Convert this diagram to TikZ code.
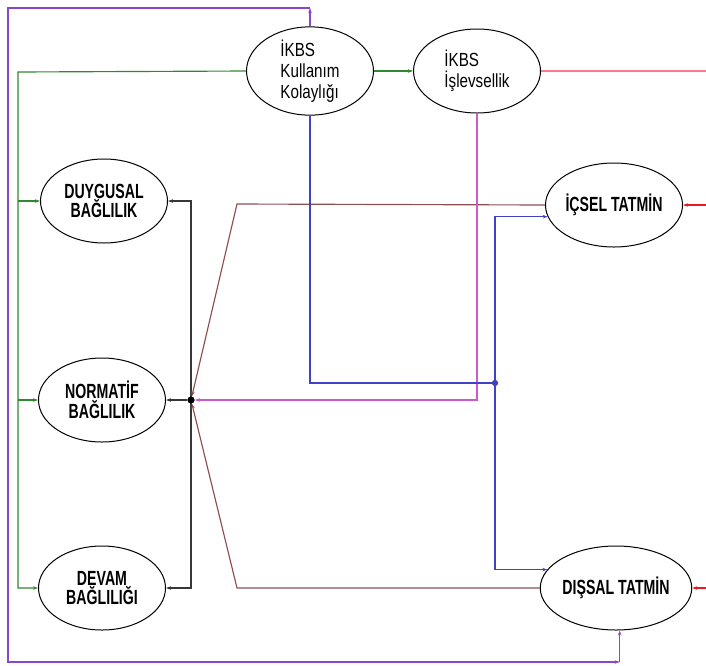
\documentclass[tikz,border=0pt]{standalone}
\usepackage{fontspec}
\setmainfont{Liberation Sans}
\newfontfamily\nfont[FakeStretch=0.69]{Liberation Sans}
\newfontfamily\kfont[FakeStretch=0.8]{Liberation Sans}
\usetikzlibrary{arrows.meta,shapes.geometric}
\definecolor{cpur}{RGB}{140,70,200}
\definecolor{cgrn}{RGB}{50,135,50}
\definecolor{cpnk}{RGB}{255,120,145}
\definecolor{cred}{RGB}{235,25,35}
\definecolor{cdk}{RGB}{55,55,55}
\definecolor{cbrn}{RGB}{140,80,80}
\definecolor{cmag}{RGB}{205,90,205}
\definecolor{cblu}{RGB}{65,65,195}
\begin{document}
\begin{tikzpicture}[x=1pt,y=-1pt,
  tip/.tip={Stealth[length=5pt,width=3.5pt]},
  ell/.style={ellipse,draw=black,line width=1pt,minimum width=127pt,minimum height=84pt,inner sep=0pt,fill=white},
  big/.style={font=\nfont\bfseries\fontsize{20.5}{19.5}\selectfont,align=center},
  ikbs/.style={font=\kfont\fontsize{19}{21}\selectfont,align=left},
  conn/.style={line width=1.15pt},
  pur/.style={conn,draw=cpur},
  grn/.style={conn,draw=cgrn},
  pnk/.style={conn,draw=cpnk},
  rd/.style={conn,draw=cred},
  dk/.style={conn,draw=cdk},
  brn/.style={conn,draw=cbrn},
  mag/.style={conn,draw=cmag},
  blu/.style={conn,draw=cblu},
  dot/.style={circle,inner sep=0pt,minimum size=#1}
]
\useasboundingbox (0,0) rectangle (706,665);

% nodes
\node[ell,ikbs] (kul) at (310,71) {İKBS\\Kullanım\\Kolaylığı};
\node[ell,ikbs] (isl) at (477,71) {İKBS\\İşlevsellik};
\node[ell,big] (duy) at (104,201) {DUYGUSAL\\BAĞLILIK};
\node[ell,big] (nor) at (102,400) {NORMATİF\\BAĞLILIK};
\node[ell,big] (dev) at (102,588) {DEVAM\\BAĞLILIĞI};
\node[ell,big] (ics) at (614,205) {İÇSEL TATMİN};
\node[ell,big] (dis) at (616,588) {DIŞSAL TATMİN};
\node[dot=7pt,fill=black] (jn) at (191,400) {};
\node[dot=6pt,fill=cblu] (bd) at (495,383) {};

% coordinates
\coordinate (p1) at (310,8);
\coordinate (p2) at (8,8);
\coordinate (p3) at (8,662);
\coordinate (g1) at (18,72);
\coordinate (b1) at (237,204);
\coordinate (b2) at (237,588);
\coordinate (r1) at (706,205);
\coordinate (r2) at (706,588);
\coordinate (r0) at (706,71);

% purple loop
\draw[pur,-tip] (kul.north) -- (p1);
\draw[pur,-tip] (p1) -- (p2) -- (p3) -- (p3 -| dis.-85);
\draw[pur,-tip] (p3 -| dis.-85) -- (dis.-85);

% green
\draw[grn,-tip] (kul.west) -- (g1) |- (dev.west);
\draw[grn,-tip] (g1 |- duy.west) -- (duy.west);
\draw[grn,-tip] (g1 |- nor.west) -- (nor.west);
\draw[grn,-tip] (kul.east) -- (isl.west);

% red
\draw[pnk] (isl.east) -- (r0);
\draw[rd,-tip] (r1) -- (ics.east);
\draw[rd,-tip] (r2) -- (dis.east);

% dark from junction
\draw[dk,-tip] (jn.center) |- (duy.east);
\draw[dk,-tip] (jn.center) |- (dev.east);
\draw[dk,-tip] (jn) -- (nor.east);

% brown
\draw[brn,-tip] (ics.west) -- (b1) -- (jn);
\draw[brn,-tip] (dis.west) -- (b2) -- (jn);

% magenta
\draw[mag,-tip] (isl.south) |- (jn);

% blue
\draw[blu] (kul.south) |- (bd);
\draw[blu,-tip] (bd) |- (ics.190);
\draw[blu,-tip] (bd) |- (dis.165);

\node[dot=7pt,fill=black] at (jn) {};
\node[dot=6pt,fill=cblu] at (bd) {};
\end{tikzpicture}
\end{document}
